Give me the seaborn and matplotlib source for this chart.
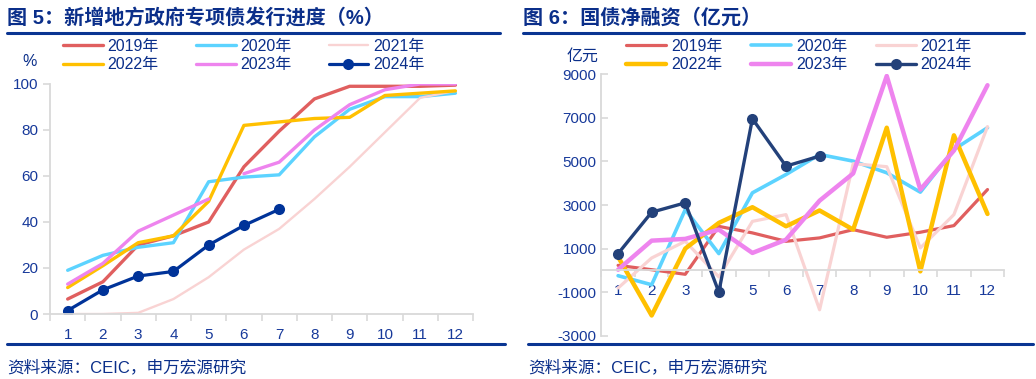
import pandas as pd
import seaborn as sns
import matplotlib
matplotlib.use('Agg')
import matplotlib.pyplot as plt
from matplotlib.lines import Line2D
from matplotlib.ticker import FixedLocator

months = list(range(1, 13))
years = ['2019年', '2020年', '2021年', '2022年', '2023年', '2024年']

# 图5: 专项债发行进度 (%)
prog_2019 = [6.5, 14, 30, 34, 40, 64, 79.5, 93.5, 99, 99, 99, 99.5]
prog_2020 = [19, 25.5, 29, 31, 57.5, 59.5, 60.5, 77, 89, 94.5, 94.5, 96]
prog_2021 = [0, 0, 0.5, 6.5, 16, 28, 37, 50, 64, 79, 94, 97]
prog_2022 = [11.5, 21, 31, 34, 49, 82, 83.5, 85, 85.5, 95, 96, 97]
prog_2023 = [13, 22, 36, 43, 50, 61, 66, 80, 91, 97.5, 100, 100]
prog_2024 = [1.5, 10.5, 16.5, 18.5, 30, 38.5, 45.5]
# 2023 line has a break between May and June
seg_2023 = [0, 0, 0, 0, 0, 1, 1, 1, 1, 1, 1, 1]

# 图6: 国债净融资 (亿元)
net_2019 = [230, 30, -180, 2020, 1720, 1335, 1490, 1870, 1520, 1750, 2055, 3710]
net_2020 = [-245, -660, 2790, 770, 3560, 4400, 5320, 5015, 4480, 3590, 5550, 6550]
net_2021 = [-810, 570, 1335, -300, 2250, 2560, -1810, 4900, 4760, 1030, 2560, 6600]
net_2022 = [620, -2070, 1000, 2180, 2900, 2025, 2750, 1870, 6550, -45, 6200, 2590]
net_2023 = [30, 1365, 1445, 1870, 800, 1410, 3200, 4450, 8925, 3710, 5500, 8500]
net_2024 = [770, 2670, 3100, -1000, 6960, 4785, 5245]

navy = '#0B2F8A'
tick_c = '#17399A'
grey = '#D9D9D9'
colors = {'2019年': '#E05F5F', '2020年': '#5CD3FF', '2021年': '#F9D3D3',
          '2022年': '#FFC000', '2023年': '#EE84EE'}

sns.set_theme(style='white')
plt.rcParams['font.family'] = ['Liberation Sans', 'Noto Sans CJK SC']
plt.rcParams['axes.unicode_minus'] = False


def long_df(series, segs=None):
    rows = []
    for yr, vals in series.items():
        for i, v in enumerate(vals):
            s = segs[yr][i] if segs and yr in segs else 0
            rows.append({'year': yr, 'month': months[i], 'value': v, 'seg': s})
    return pd.DataFrame(rows)


def draw(ax, df, widths, navy_line):
    for yr in years[:-1]:
        sub = df[df['year'] == yr]
        sns.lineplot(data=sub, x='month', y='value', units='seg', estimator=None,
                     color=colors[yr], lw=widths[yr], ax=ax, legend=False)
    sub = df[df['year'] == years[-1]]
    sns.lineplot(data=sub, x='month', y='value', color=navy_line, lw=widths['2024年'],
                 marker='o', markersize=8, markeredgewidth=0, ax=ax, legend=False)
    handles = []
    for yr in years[:-1]:
        handles.append(Line2D([], [], color=colors[yr], lw=widths[yr]))
    handles.append(Line2D([], [], color=navy_line, lw=widths['2024年'], marker='o',
                          markersize=8, markeredgewidth=0))
    return handles


def style(ax):
    ax.set_xlim(0.5, 12.5)
    ax.set_xticks(months)
    ax.set_xticklabels([str(m) for m in months])
    ax.xaxis.set_minor_locator(FixedLocator([m + 0.5 for m in [0] + months]))
    ax.tick_params(axis='x', which='major', length=0, labelsize=11, colors=tick_c)
    ax.tick_params(axis='x', which='minor', length=5, width=1.2, color=grey, direction='out', bottom=True)
    ax.tick_params(axis='y', labelsize=11, colors=tick_c, length=5, width=1.2, color=grey, left=True)
    for s in ['top', 'right']:
        ax.spines[s].set_visible(False)
    for s in ['left', 'bottom']:
        ax.spines[s].set_color(grey)
        ax.spines[s].set_linewidth(1.3)
    ax.set_xlabel('')
    ax.set_ylabel('')
    ax.grid(False)


def add_legend(ax, handles, x, spacing):
    order = [0, 3, 1, 4, 2, 5]
    leg = ax.legend([handles[i] for i in order], [years[i] for i in order],
                    ncol=3, loc='upper left', bbox_to_anchor=(x, 0.897),
                    bbox_transform=fig.transFigure, frameon=False, fontsize=11.5,
                    handlelength=2.5, handletextpad=0.3, columnspacing=spacing,
                    labelspacing=0.2, borderpad=0, borderaxespad=0)
    for t in leg.get_texts():
        t.set_color(navy)


fig = plt.figure(figsize=(10.36, 3.79), dpi=100)
ax1 = fig.add_axes([0.0483, 0.1715, 0.4083, 0.6069])
ax2 = fig.add_axes([0.5804, 0.1142, 0.389, 0.6897])

# left chart
df1 = long_df({'2019年': prog_2019, '2020年': prog_2020, '2021年': prog_2021,
               '2022年': prog_2022, '2023年': prog_2023, '2024年': prog_2024},
              segs={'2023年': seg_2023})
w1 = {'2019年': 2.4, '2020年': 2.4, '2021年': 1.7, '2022年': 2.4, '2023年': 2.4, '2024年': 2.3}
h1 = draw(ax1, df1, w1, '#003399')
style(ax1)
ax1.set_ylim(0, 100)
ax1.set_yticks([0, 20, 40, 60, 80, 100])
ax1.tick_params(axis='y', direction='out')
ax1.tick_params(axis='x', pad=10)
add_legend(ax1, h1, 0.0608, 2.3)

# right chart
df2 = long_df({'2019年': net_2019, '2020年': net_2020, '2021年': net_2021,
               '2022年': net_2022, '2023年': net_2023, '2024年': net_2024})
w2 = {'2019年': 2.3, '2020年': 2.6, '2021年': 2.3, '2022年': 3.2, '2023年': 3.2, '2024年': 2.4}
h2 = draw(ax2, df2, w2, '#23417A')
style(ax2)
ax2.set_ylim(-3000, 9000)
ax2.set_yticks([-3000, -1000, 1000, 3000, 5000, 7000, 9000])
ax2.spines['bottom'].set_position(('data', 0))
ax2.tick_params(axis='y', direction='in')
ax2.tick_params(axis='x', pad=10)
add_legend(ax2, h2, 0.6045, 1.8)

# unit labels
fig.text(0.029, 0.839, '%', fontsize=11.5, color=navy, ha='center', va='center')
fig.text(0.5627, 0.852, '亿元', fontsize=11.5, color=navy, ha='center', va='center')

# titles and rules
fig.text(0.0068, 0.953, '图 5：新增地方政府专项债发行进度（%）', fontsize=14.5,
         weight='bold', color=navy, va='center', ha='left')
fig.text(0.505, 0.953, '图 6：国债净融资（亿元）', fontsize=14.5,
         weight='bold', color=navy, va='center', ha='left')
for x0, x1 in [(0.0068, 0.4826), (0.505, 0.988)]:
    fig.add_artist(Line2D([x0, x1], [0.912, 0.912], transform=fig.transFigure,
                          color='#0A3592', lw=2.2))
for x0, x1 in [(0.0068, 0.4875), (0.5097, 0.997)]:
    fig.add_artist(Line2D([x0, x1], [0.092, 0.092], transform=fig.transFigure,
                          color='#0A3592', lw=2.2))

fig.text(0.0068, 0.03, '资料来源：CEIC，申万宏源研究', fontsize=12, color=navy,
         va='center', ha='left')
fig.text(0.5097, 0.03, '资料来源：CEIC，申万宏源研究', fontsize=12, color=navy,
         va='center', ha='left')

fig.savefig('out.png', dpi=100)
